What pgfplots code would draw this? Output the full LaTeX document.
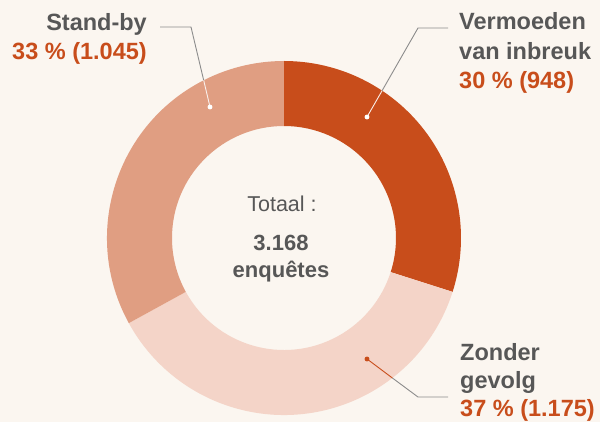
\documentclass[border=0pt]{standalone}
\usepackage{pgfplots}
\pgfplotsset{compat=1.18}
\usepackage{fontspec}
\setmainfont{Liberation Sans}
\definecolor{bg}{HTML}{FBF6F0}
\definecolor{cA}{HTML}{C84D1B}
\definecolor{cB}{HTML}{F4D4C8}
\definecolor{cC}{HTML}{E09E82}
\definecolor{txt}{HTML}{575757}
\definecolor{org}{HTML}{C84D1B}
\definecolor{lead}{HTML}{8C8C8C}
\tikzset{lbl/.style={inner sep=0, font={\fontsize{23.5bp}{29bp}\selectfont\bfseries}}}
\begin{document}
\begin{tikzpicture}
% data: Vermoeden van inbreuk, Zonder gevolg, Stand-by
\def\vA{948}\def\vB{1175}\def\vC{1045}
\pgfmathsetmacro\tot{\vA+\vB+\vC}
\pgfmathsetmacro\aA{90-360*(\vA/\tot)}
\pgfmathsetmacro\aB{\aA-360*(\vB/\tot)}
\pgfmathsetmacro\aC{\aB-360*(\vC/\tot)}
\useasboundingbox (0,0) rectangle (600bp,422bp);
\fill[bg] (0,0) rectangle (600bp,422bp);
\begin{axis}[anchor=origin, at={(0,0)}, scale only axis, width=600bp, height=422bp,
  xmin=0, xmax=600, ymin=0, ymax=422, hide axis, clip=false]
\fill[cA, shift={(axis cs:284,184)}] (90:177bp) arc[start angle=90, end angle=\aA, radius=177bp]
   -- (\aA:112bp) arc[start angle=\aA, end angle=90, radius=112bp] -- cycle;
\fill[cB, shift={(axis cs:284,184)}] (\aA:177bp) arc[start angle=\aA, end angle=\aB, radius=177bp]
   -- (\aB:112bp) arc[start angle=\aB, end angle=\aA, radius=112bp] -- cycle;
\fill[cC, shift={(axis cs:284,184)}] (\aB:177bp) arc[start angle=\aB, end angle=\aC, radius=177bp]
   -- (\aC:112bp) arc[start angle=\aC, end angle=\aB, radius=112bp] -- cycle;
% leader lines
\addplot[lead, line width=0.9bp, mark=none] coordinates {(203.7,341.7) (191,395) (160,395)};
\addplot[white!85!cC, line width=0.9bp, mark=none] coordinates {(210,315) (203.7,341.7)};
\addplot[only marks, mark=*, mark size=2.2bp, mark options={fill=white, draw=white}] coordinates {(210,315)};
\addplot[lead, line width=0.9bp, mark=none] coordinates {(382.1,331.3) (418,394) (448,394)};
\addplot[white!90!cA, line width=0.9bp, mark=none] coordinates {(367,305) (382.1,331.3)};
\addplot[only marks, mark=*, mark size=2.2bp, mark options={fill=white, draw=white}] coordinates {(367,305)};
\addplot[lead, line width=0.9bp, mark=none] coordinates {(392.4,44.0) (418,25) (448,25)};
\addplot[cA, line width=0.9bp, mark=none] coordinates {(367,63) (392.4,44.0)};
\addplot[only marks, mark=*, mark size=2.2bp, mark options={fill=cA, draw=cA}] coordinates {(367,63)};
% labels
\node[lbl, anchor=base east, text=txt] at (axis cs:147,391.5) {Stand-by};
\node[lbl, anchor=base east, text=org] at (axis cs:147,362) {33 \% (1.045)};
\node[lbl, anchor=base west, text=txt] at (axis cs:459,392) {Vermoeden};
\node[lbl, anchor=base west, text=txt] at (axis cs:459,362.5) {van inbreuk};
\node[lbl, anchor=base west, text=org] at (axis cs:459,333.7) {30 \% (948)};
\node[lbl, anchor=base west, text=txt] at (axis cs:460,61.3) {Zonder};
\node[lbl, anchor=base west, text=txt] at (axis cs:460,33) {gevolg};
\node[lbl, anchor=base west, text=org] at (axis cs:460,5.5) {37 \% (1.175)};
\node[anchor=base, inner sep=0, text=txt, font={\fontsize{21.5bp}{26bp}\selectfont}] at (axis cs:282,210) {Totaal :};
\node[anchor=base, inner sep=0, text=txt, font={\fontsize{22bp}{26bp}\selectfont\bfseries}] at (axis cs:281,171.3) {3.168};
\node[anchor=base, inner sep=0, text=txt, font={\fontsize{22bp}{26bp}\selectfont\bfseries}] at (axis cs:281,144.7) {enquêtes};
\end{axis}
\end{tikzpicture}
\end{document}
